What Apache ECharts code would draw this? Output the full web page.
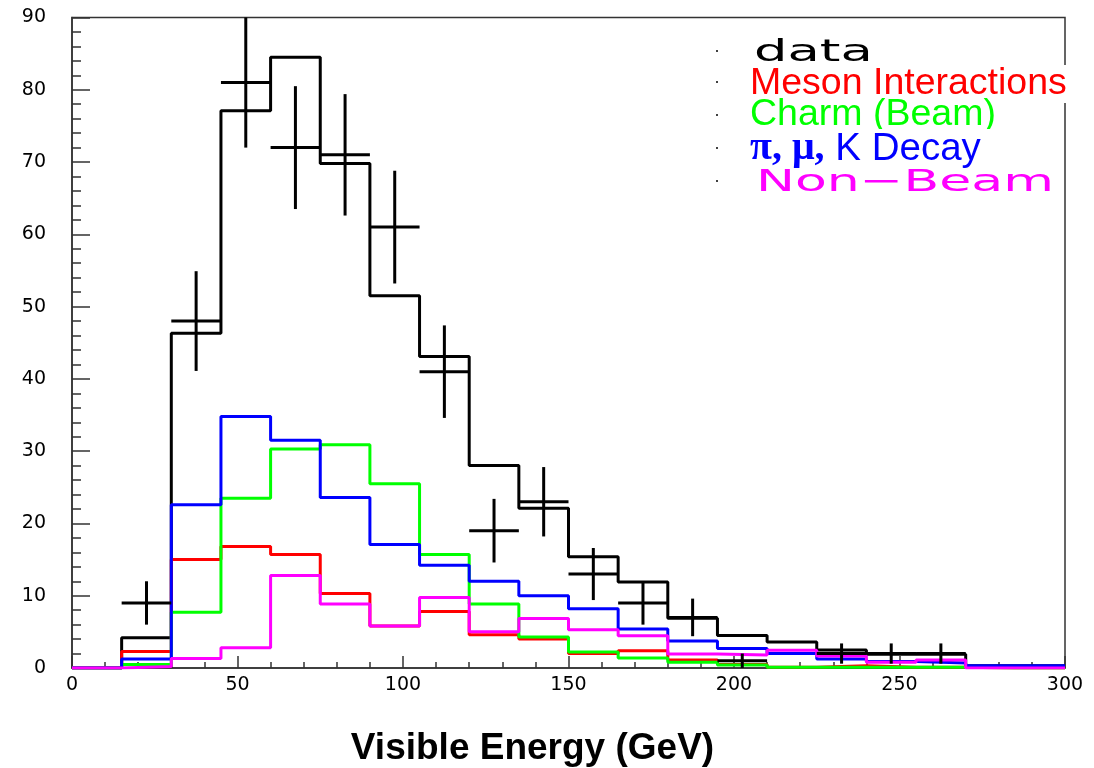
<!DOCTYPE html>
<html>
<head>
<meta charset="utf-8">
<script src="https://cdn.jsdelivr.net/npm/echarts@6/dist/echarts.min.js"></script>
<style>
html,body{margin:0;padding:0;background:#fff;}
#c{width:1094px;height:768px;}
</style>
</head>
<body>
<div id="c"></div>
<script>
// ---- data (bins of 15 GeV from 0 to 300) ----
const binEdges = [0,15,30,45,60,75,90,105,120,135,150,165,180,195,210,225,240,255,270,285,300];
const binWidth = 15;
const dataCounts = [null,9,48,81,72,71,61,41,19,23,13,9,7,1,null,2,2,2,null,null];
const dataErrors = [null,3,6.9,9,8.5,8.4,7.8,6.4,4.4,4.8,3.6,3,2.6,1,null,1.4,1.4,1.4,null,null];
const totalMC   = [0,4.2,46.3,77.1,84.5,69.8,51.5,43.1,28.0,22.1,15.4,11.9,6.9,4.5,3.6,2.5,1.9,1.9,0.3,0.3];
const mesonInt  = [0,2.3,15.0,16.8,15.7,10.3,5.8,7.8,4.6,4.0,2.0,2.4,1.1,0.5,0.1,0.3,0.1,0.1,0,0];
const charmBeam = [0,0.5,7.7,23.5,30.3,30.9,25.5,15.7,8.85,4.3,2.2,1.4,0.8,0.4,0.1,0.1,0.1,0.1,0,0];
const decayPMK  = [0,1.25,22.6,34.8,31.5,23.6,17.1,14.2,12.0,10.0,8.2,5.4,3.75,2.7,2.0,1.25,0.9,0.7,0.3,0.3];
const nonBeam   = [0,0.2,1.3,2.8,12.8,8.85,5.8,9.75,5.0,6.85,5.3,4.45,1.95,1.8,2.45,1.65,0.8,1.1,0,0];
const xTicks = {min:0, max:300, interval:50};
const yTicks = {min:0, max:90, interval:10};
const legendLabels = ['data','Meson Interactions','Charm (Beam)','K Decay','Non\u2212Beam'];
const xTitle = 'Visible Energy (GeV)';

function stepData(vals){
  const pts = vals.map((v,i)=>[binEdges[i], v]);
  pts.push([binEdges[vals.length], vals[vals.length-1]]);
  return pts;
}
function histSeries(name, vals, color){
  return {name, type:'line', step:'end', data:stepData(vals), symbol:'none',
          lineStyle:{color, width:3}, silent:true, animation:false};
}
const crossData = [];
dataCounts.forEach((v,i)=>{ if(v!==null) crossData.push([binEdges[i]+binWidth/2, v, dataErrors[i]]); });

const chart = echarts.init(document.getElementById('c'), null, {renderer:'canvas'});
const axisCol = '#333';
chart.setOption({
  animation:false,
  backgroundColor:'#fff',
  grid:{left:72, right:29, top:17.5, bottom:100, containLabel:false, outerBoundsMode:'none',
        show:true, borderColor:axisCol, borderWidth:1.5},
  xAxis:{type:'value', min:xTicks.min, max:xTicks.max, interval:xTicks.interval,
    axisLine:{lineStyle:{color:axisCol, width:1.5}},
    axisTick:{inside:true, length:12, lineStyle:{color:axisCol, width:1.5}},
    minorTick:{show:true, splitNumber:5, length:6, lineStyle:{color:axisCol, width:1.5}},
    splitLine:{show:false},
    axisLabel:{fontFamily:'DejaVu Sans', fontSize:19, color:'#000', margin:8},
    name:xTitle, nameLocation:'middle', nameGap:62,
    nameTextStyle:{fontFamily:'Liberation Sans', fontWeight:'bold', fontSize:37, color:'#000', padding:[0,72,0,0]}
  },
  yAxis:{type:'value', min:yTicks.min, max:yTicks.max, interval:yTicks.interval,
    axisLine:{lineStyle:{color:axisCol, width:1.5}},
    axisTick:{inside:true, length:18, lineStyle:{color:axisCol, width:1.5}},
    minorTick:{show:true, splitNumber:5, length:9, lineStyle:{color:axisCol, width:1.5}},
    splitLine:{show:false},
    axisLabel:{fontFamily:'DejaVu Sans', fontSize:19, color:'#000', margin:26}
  },
  series:[
    histSeries('total', totalMC, '#000000'),
    histSeries('Meson Interactions', mesonInt, '#ff0000'),
    histSeries('Charm (Beam)', charmBeam, '#00ff00'),
    histSeries('Decay', decayPMK, '#0000ff'),
    histSeries('Non-Beam', nonBeam, '#ff00ff'),
    {name:'data', type:'custom', data:crossData, silent:true, animation:false, z:5,
      renderItem:function(params, api){
        const x = api.value(0), y = api.value(1), e = api.value(2);
        const l = api.coord([x-binWidth/2, y]), r = api.coord([x+binWidth/2, y]);
        const t = api.coord([x, Math.min(y+e, yTicks.max)]), b = api.coord([x, y-e]);
        const st = {stroke:'#000', lineWidth:3};
        return {type:'group', children:[
          {type:'line', shape:{x1:l[0], y1:l[1], x2:r[0], y2:r[1]}, style:st},
          {type:'line', shape:{x1:t[0], y1:t[1], x2:b[0], y2:b[1]}, style:st}
        ]};
      }
    }
  ],
  graphic:[
    {type:'circle', shape:{cx:717, cy:51, r:1}, style:{fill:'#000'}},
    {type:'circle', shape:{cx:717, cy:82, r:1}, style:{fill:'#000'}},
    {type:'circle', shape:{cx:717, cy:115, r:1}, style:{fill:'#000'}},
    {type:'circle', shape:{cx:717, cy:148, r:1}, style:{fill:'#000'}},
    {type:'circle', shape:{cx:717, cy:181, r:1}, style:{fill:'#000'}},
    {type:'text', x:754, y:53, scaleX:1.7, z:10,
      style:{text:legendLabels[0], font:'31px "DejaVu Sans"', fill:'#000', align:'left', verticalAlign:'middle'}},
    {type:'text', x:750, y:84, z:10,
      style:{text:legendLabels[1], font:'37.5px "Liberation Sans"', fill:'#ff0000', align:'left', verticalAlign:'middle', backgroundColor:'#fff'}},
    {type:'text', x:750, y:115, z:10,
      style:{text:legendLabels[2], font:'37.5px "Liberation Sans"', fill:'#00ff00', align:'left', verticalAlign:'middle'}},
    {type:'text', x:750, y:149, z:10,
      style:{text:'{g|\u03c0, \u03bc,} ' + legendLabels[3], font:'38.5px "Liberation Sans"', fill:'#0000ff', align:'left', verticalAlign:'middle',
        backgroundColor:'#fff', padding:[0,80,0,0],
        rich:{g:{font:'bold 40px "Liberation Serif"', fill:'#0000ff'}}}},
    {type:'text', x:756, y:183, scaleX:1.68, z:10,
      style:{text:legendLabels[4], font:'31px "DejaVu Sans"', fill:'#ff00ff', align:'left', verticalAlign:'middle'}}
  ]
});
</script>
</body>
</html>
